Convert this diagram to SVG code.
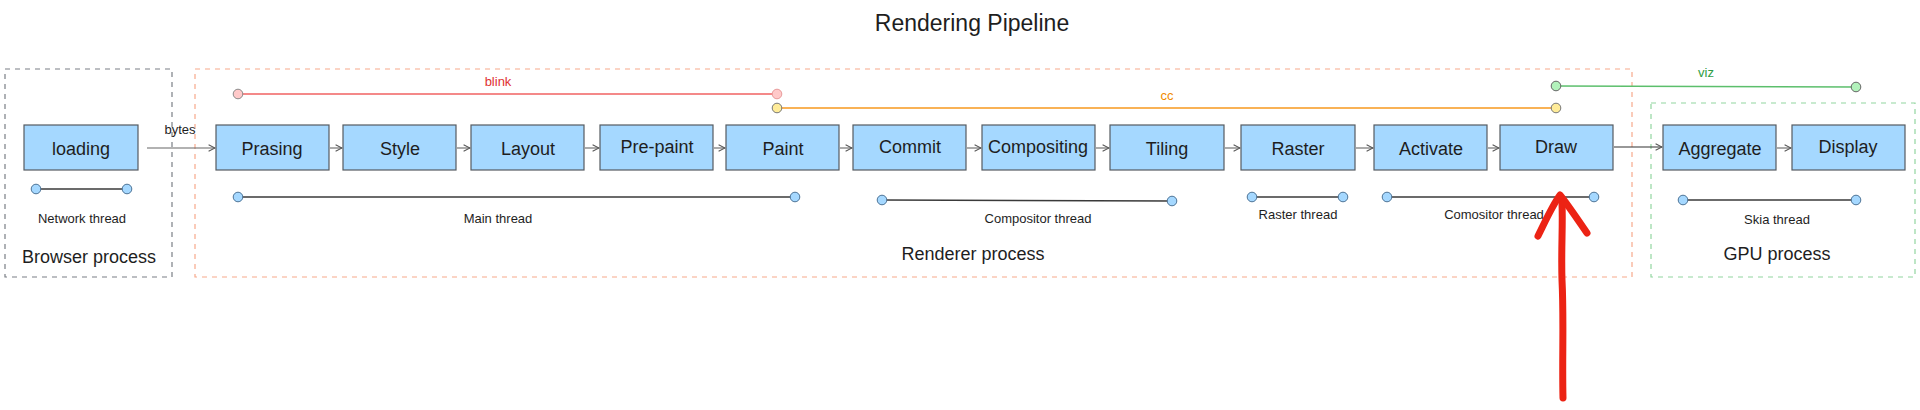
<svg xmlns="http://www.w3.org/2000/svg" width="1920" height="410" viewBox="0 0 1920 410">
<defs>
<style>
.node rect{fill:#a5d8ff;stroke:#555b61;stroke-width:1.2}
.node text{font-family:"Liberation Sans",Arial,sans-serif;font-size:18px;fill:#1e1e1e;text-anchor:middle}
.lbl{font-family:"Liberation Sans",Arial,sans-serif;font-size:13px;fill:#1e1e1e;text-anchor:middle}
.proc{font-family:"Liberation Sans",Arial,sans-serif;font-size:18px;fill:#1e1e1e;text-anchor:middle}
.flow{stroke:#666;stroke-width:1.1;fill:none;marker-end:url(#ah)}
.thr{stroke:#3a3a3a;stroke-width:1.4}
.dot{fill:#a5d8ff;stroke:#4d7396;stroke-width:1}
</style>
<marker id="ah" viewBox="0 0 10 10" refX="9" refY="5" markerWidth="8" markerHeight="8" markerUnits="userSpaceOnUse" orient="auto">
<path d="M1,1 L9,5 L1,9" fill="none" stroke="#555" stroke-width="1.3"/>
</marker>
</defs>
<rect width="1920" height="410" fill="#ffffff"/>
<text x="972" y="31" font-family="'Liberation Sans',Arial,sans-serif" font-size="23" fill="#1e1e1e" text-anchor="middle">Rendering Pipeline</text>

<g id="browser-process">
<rect x="5" y="69" width="167" height="208" fill="none" stroke="#7a7f85" stroke-width="1.2" stroke-dasharray="5,5"/>
<text class="proc" x="89" y="263">Browser process</text>
</g>
<g id="renderer-process">
<rect x="195" y="69" width="1437" height="208" fill="none" stroke="#f7a98c" stroke-width="1.2" stroke-dasharray="5,5"/>
<text class="proc" x="973" y="260">Renderer process</text>
</g>
<g id="gpu-process">
<rect x="1651" y="103" width="264" height="174" fill="none" stroke="#92d6a0" stroke-width="1.2" stroke-dasharray="5,5"/>
<text class="proc" x="1777" y="260">GPU process</text>
</g>

<g id="connectors">
<line class="flow" x1="147" y1="148" x2="215" y2="148"/>
<line class="flow" x1="330" y1="148" x2="342" y2="148"/>
<line class="flow" x1="457" y1="148" x2="470" y2="148"/>
<line class="flow" x1="585" y1="148" x2="599" y2="148"/>
<line class="flow" x1="714" y1="148" x2="725" y2="148"/>
<line class="flow" x1="840" y1="148" x2="852" y2="148"/>
<line class="flow" x1="967" y1="148" x2="981" y2="148"/>
<line class="flow" x1="1096" y1="148" x2="1109" y2="148"/>
<line class="flow" x1="1225" y1="148" x2="1240" y2="148"/>
<line class="flow" x1="1356" y1="148" x2="1373" y2="148"/>
<line class="flow" x1="1488" y1="148" x2="1499" y2="148"/>
<line class="flow" x1="1614" y1="147" x2="1662" y2="147" style="stroke:#333"/>
<line class="flow" x1="1777" y1="148" x2="1791" y2="148"/>
<text class="lbl" x="180" y="134">bytes</text>
</g>

<g id="node-loading" class="node"><rect x="24" y="125" width="114" height="45"/><text x="81" y="155">loading</text></g>
<g id="node-prasing" class="node"><rect x="216" y="125" width="113" height="45"/><text x="272" y="155">Prasing</text></g>
<g id="node-style" class="node"><rect x="343" y="125" width="113" height="45"/><text x="400" y="155">Style</text></g>
<g id="node-layout" class="node"><rect x="471" y="125" width="113" height="45"/><text x="528" y="155">Layout</text></g>
<g id="node-prepaint" class="node"><rect x="600" y="125" width="113" height="45"/><text x="657" y="153">Pre-paint</text></g>
<g id="node-paint" class="node"><rect x="726" y="125" width="113" height="45"/><text x="783" y="155">Paint</text></g>
<g id="node-commit" class="node"><rect x="853" y="125" width="113" height="45"/><text x="910" y="153">Commit</text></g>
<g id="node-compositing" class="node"><rect x="982" y="125" width="113" height="45"/><text x="1038" y="153">Compositing</text></g>
<g id="node-tiling" class="node"><rect x="1110" y="125" width="114" height="45"/><text x="1167" y="155">Tiling</text></g>
<g id="node-raster" class="node"><rect x="1241" y="125" width="114" height="45"/><text x="1298" y="155">Raster</text></g>
<g id="node-activate" class="node"><rect x="1374" y="125" width="113" height="45"/><text x="1431" y="155">Activate</text></g>
<g id="node-draw" class="node"><rect x="1500" y="125" width="113" height="45"/><text x="1556" y="153">Draw</text></g>
<g id="node-aggregate" class="node"><rect x="1663" y="125" width="113" height="45"/><text x="1720" y="155">Aggregate</text></g>
<g id="node-display" class="node"><rect x="1792" y="125" width="113" height="45"/><text x="1848" y="153">Display</text></g>

<g id="blink">
<line x1="238" y1="94" x2="777" y2="94" stroke="#f06262" stroke-width="1.5"/>
<circle cx="238" cy="94" r="4.8" fill="#ffc9c9" stroke="#8a8a8a" stroke-width="1"/>
<circle cx="777" cy="94" r="4.8" fill="#ffc9c9" stroke="#e89a9a" stroke-width="1"/>
<text x="498" y="86" font-family="'Liberation Sans',Arial,sans-serif" font-size="13" fill="#e03131" text-anchor="middle">blink</text>
</g>
<g id="cc">
<line x1="777" y1="108" x2="1556" y2="108" stroke="#f9b256" stroke-width="1.8"/>
<circle cx="777" cy="108" r="4.8" fill="#ffec99" stroke="#777" stroke-width="1"/>
<circle cx="1556" cy="108" r="4.8" fill="#ffec99" stroke="#777" stroke-width="1"/>
<text x="1167" y="100" font-family="'Liberation Sans',Arial,sans-serif" font-size="13" fill="#f08c00" text-anchor="middle">cc</text>
</g>
<g id="viz">
<line x1="1556" y1="86" x2="1856" y2="87" stroke="#5cbf6c" stroke-width="1.4"/>
<circle cx="1556" cy="86" r="4.8" fill="#b2f2bb" stroke="#666" stroke-width="1"/>
<circle cx="1856" cy="87" r="4.8" fill="#b2f2bb" stroke="#666" stroke-width="1"/>
<text x="1706" y="77" font-family="'Liberation Sans',Arial,sans-serif" font-size="13" fill="#2f9e44" text-anchor="middle">viz</text>
</g>

<g id="network-thread">
<line class="thr" x1="36" y1="189" x2="127" y2="189"/>
<circle class="dot" cx="36" cy="189" r="4.8"/><circle class="dot" cx="127" cy="189" r="4.8"/>
<text class="lbl" x="82" y="223">Network thread</text>
</g>
<g id="main-thread">
<line class="thr" x1="238" y1="197" x2="795" y2="197"/>
<circle class="dot" cx="238" cy="197" r="4.8"/><circle class="dot" cx="795" cy="197" r="4.8"/>
<text class="lbl" x="498" y="223">Main thread</text>
</g>
<g id="compositor-thread">
<line class="thr" x1="882" y1="200" x2="1172" y2="201"/>
<circle class="dot" cx="882" cy="200" r="4.8"/><circle class="dot" cx="1172" cy="201" r="4.8"/>
<text class="lbl" x="1038" y="223">Compositor thread</text>
</g>
<g id="raster-thread">
<line class="thr" x1="1252" y1="197" x2="1343" y2="197"/>
<circle class="dot" cx="1252" cy="197" r="4.8"/><circle class="dot" cx="1343" cy="197" r="4.8"/>
<text class="lbl" x="1298" y="219">Raster thread</text>
</g>
<g id="comositor-thread">
<line class="thr" x1="1387" y1="197" x2="1594" y2="197"/>
<circle class="dot" cx="1387" cy="197" r="4.8"/><circle class="dot" cx="1594" cy="197" r="4.8"/>
<text class="lbl" x="1494" y="219">Comositor thread</text>
</g>
<g id="skia-thread">
<line class="thr" x1="1683" y1="200" x2="1856" y2="200"/>
<circle class="dot" cx="1683" cy="200" r="4.8"/><circle class="dot" cx="1856" cy="200" r="4.8"/>
<text class="lbl" x="1777" y="224">Skia thread</text>
</g>

<g id="red-arrow" fill="none" stroke="#ec2314" stroke-width="7" stroke-linecap="round" stroke-linejoin="round">
<path d="M1563,398 C1562,360 1564,320 1562,280 C1561,250 1563,225 1562,203"/>
<path d="M1538,236 C1545,222 1552,206 1560,195 C1568,205 1578,220 1587,233"/>
</g>
</svg>
